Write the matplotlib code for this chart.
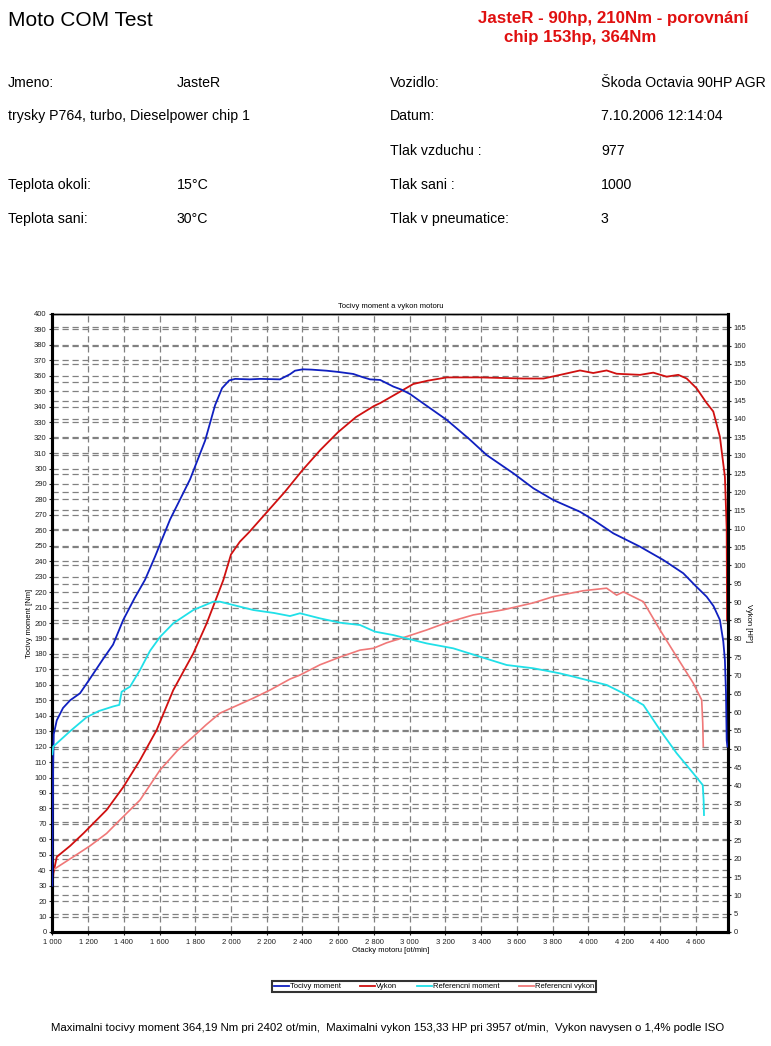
import matplotlib
matplotlib.use("Agg")
import matplotlib.pyplot as plt
from matplotlib.ticker import FuncFormatter, MultipleLocator
from matplotlib.lines import Line2D

plt.rcParams['font.family'] = ['Liberation Sans', 'DejaVu Sans']

# ---------------- data ----------------
rpm_torque = [1000, 1002, 1005, 1008, 1025, 1060, 1100, 1155, 1211, 1286, 1340, 1397, 1460, 1519,
              1575, 1659, 1771, 1855, 1911, 1950, 1990, 2023, 2106, 2163, 2274, 2330, 2358, 2402,
              2450, 2535, 2600, 2684, 2740, 2778, 2835, 2909, 2955, 3002, 3058, 3208, 3329, 3431,
              3580, 3692, 3804, 3953, 4028, 4140, 4289, 4419, 4531, 4600, 4662, 4700, 4736, 4755,
              4764, 4770, 4774, 4778]
torque_nm = [30, 70, 110, 128, 137, 145, 150, 154.5, 164, 177, 186, 202, 216, 228,
             243, 267, 293, 318, 341, 352, 357, 358, 357.7, 358, 357.7, 361, 363.3, 364.2,
             364, 363.3, 362.5, 361.2, 359, 357.7, 357.3, 353, 351, 348.2, 343.6, 331.4, 319.5, 308.7,
             296.9, 287.2, 279.6, 272, 266.7, 258, 249.4, 240.8, 232.2, 224, 217, 211, 202, 188,
             176, 155, 124, 120]

rpm_power = [1000, 1002, 1006, 1025, 1100, 1174, 1304, 1398, 1491, 1584, 1677, 1789, 1864, 1957,
             2000, 2050, 2100, 2200, 2300, 2400, 2500, 2600, 2700, 2800, 2835, 2946, 3020, 3100,
             3207, 3393, 3636, 3749, 3843, 3953, 4027, 4102, 4158, 4289, 4363, 4438, 4503, 4550,
             4606, 4662, 4699, 4736, 4764, 4774, 4776]
power_hp = [5, 12, 16, 20.5, 23.5, 26.9, 33.3, 39.6, 46.9, 55.1, 66, 76, 84.2, 96,
            103, 106.5, 109, 114.5, 120, 126, 131.5, 136.4, 140.5, 143.5, 144.3, 147.4, 149.5, 150.4,
            151.3, 151.3, 151, 151, 152, 153.2, 152.5, 153.2, 152.3, 152, 152.6, 151.5, 152, 151,
            148.3, 144.3, 142, 135.1, 124.2, 110, 85]

rpm_ref_torque = [1000, 1005, 1043, 1100, 1192, 1260, 1341, 1375, 1388, 1435, 1491, 1547, 1603, 1677,
                  1789, 1901, 1938, 1976, 2125, 2240, 2330, 2386, 2498, 2610, 2722, 2806, 2908, 2983,
                  3095, 3244, 3393, 3543, 3692, 3841, 3916, 4011, 4102, 4196, 4308, 4401, 4494,
                  4587, 4640, 4645, 4647]
ref_torque_nm = [115, 120, 124, 130, 139, 143, 146, 147, 155.5, 158.8, 169.6, 182, 191, 199.8,
                 208.4, 213.8, 213.8, 212.7, 208.4, 206.5, 204.5, 206.3, 203, 200.2, 198.7, 194.4, 192.2, 190,
                 186.8, 183.6, 178.2, 172.8, 170.7, 167.4, 165.3, 162.5, 159.9, 154.5, 146.9, 130.7, 115.7,
                 102.7, 95.1, 85, 75.7]

rpm_ref_power = [1000, 1006, 1117, 1211, 1304, 1379, 1491, 1603, 1700, 1789, 1860, 1938, 2125, 2218,
                 2274, 2330, 2386, 2498, 2610, 2722, 2797, 2871, 2983, 3095, 3207, 3356, 3524, 3692,
                 3804, 3971, 4102, 4158, 4196, 4308, 4401, 4494, 4587, 4634, 4640, 4643]
ref_power_hp = [16, 17, 20.5, 23.5, 26.9, 30.6, 36, 44.2, 49.5, 53.3, 56.5, 59.7, 63.8, 66,
                67.5, 69, 70.1, 72.9, 75, 76.9, 77.4, 78.9, 80.6, 82.4, 84.4, 86.5, 87.9, 89.8,
                91.5, 93.1, 93.8, 91.9, 92.8, 90.1, 82.4, 75.1, 67.9, 63.3, 57, 50.6]

x_ticks = [1000, 1200, 1400, 1600, 1800, 2000, 2200, 2400, 2600, 2800, 3000, 3200, 3400, 3600,
           3800, 4000, 4200, 4400, 4600]

series_labels = ["Tocivy moment", "Vykon", "Referencni moment", "Referencni vykon"]
series_colors = ["#1020c0", "#d01010", "#20e0e8", "#f07878"]

info_left = [("Jmeno:", "JasteR"), ("trysky P764, turbo, Dieselpower chip 1", ""), ("", ""),
             ("Teplota okoli:", "15°C"), ("Teplota sani:", "30°C")]
info_right = [("Vozidlo:", "Škoda Octavia 90HP AGR"), ("Datum:", "7.10.2006 12:14:04"),
              ("Tlak vzduchu :", "977"), ("Tlak sani :", "1000"), ("Tlak v pneumatice:", "3")]

# ---------------- figure ----------------
W, H = 771, 1046
fig = plt.figure(figsize=(W / 100, H / 100), dpi=100)

def fx(px):
    return px / W

def fy(py):
    return 1 - py / H

# header
fig.text(fx(8), fy(20), "Moto COM Test", fontsize=15, va='center', ha='left')
fig.text(fx(478), fy(18), "JasteR - 90hp, 210Nm - porovnání", fontsize=12.2, fontweight='bold',
         color='#e01010', va='center', ha='left')
fig.text(fx(504), fy(37.5), "chip 153hp, 364Nm", fontsize=12.2, fontweight='bold',
         color='#e01010', va='center', ha='left')

row_y = [83, 116, 151, 185, 219]
for (lab, val), y in zip(info_left, row_y):
    if lab:
        fig.text(fx(8), fy(y), lab, fontsize=10.2, va='center', ha='left')
    if val:
        fig.text(fx(177), fy(y), val, fontsize=10.2, va='center', ha='left')
for (lab, val), y in zip(info_right, row_y):
    fig.text(fx(390), fy(y), lab, fontsize=10.2, va='center', ha='left')
    fig.text(fx(601), fy(y), val, fontsize=10.2, va='center', ha='left')

# axes
left, right, top, bottom = 52.3, 728.3, 314, 932
ax = fig.add_axes([fx(left), fy(bottom), (right - left) / W, (bottom - top) / H])
ax.set_xlim(1000, 4783)
ax.set_ylim(0, 400)

grid_kw = dict(color='#808080', linestyle=(0, (5, 3)), linewidth=0.9)
ax.yaxis.set_major_locator(MultipleLocator(10))
ax.set_xticks(x_ticks)
ax.grid(True, axis='both', **grid_kw)
ax.set_axisbelow(True)

ax2 = ax.twinx()
ax2.set_ylim(0, 168.6)
ax2.yaxis.set_major_locator(MultipleLocator(5))
ax2.grid(True, axis='y', **grid_kw)
ax2.set_axisbelow(True)

ax3 = ax.twinx()
ax3.set_ylim(0, 400)
ax3.axis('off')

ax2.plot(rpm_power, power_hp, color=series_colors[1], lw=1.3)
ax2.plot(rpm_ref_power, ref_power_hp, color=series_colors[3], lw=1.2)
ax3.plot(rpm_torque, torque_nm, color=series_colors[0], lw=1.3)
ax3.plot(rpm_ref_torque, ref_torque_nm, color=series_colors[2], lw=1.3)

fmt = FuncFormatter(lambda v, p: f"{int(v):,}".replace(",", " "))
ax.xaxis.set_major_formatter(fmt)
for a in (ax, ax2):
    a.tick_params(labelsize=5.5, length=2.5, width=0.8, pad=1.5, colors='#222222')
ax.tick_params(axis='x', pad=2.5)

for a in (ax, ax2):
    for s in ('left', 'bottom', 'right'):
        a.spines[s].set_linewidth(2.2)
        a.spines[s].set_color('black')
    a.spines['top'].set_linewidth(1.0)

ax.set_title("Tocivy moment a vykon motoru", fontsize=5.5, pad=4)
ax.set_xlabel("Otacky motoru [ot/min]", fontsize=5.5, labelpad=0.5)
ax.set_ylabel("Tocivy moment [Nm]", fontsize=5.5, labelpad=0.5)
ax2.set_ylabel("Vykon [HP]", fontsize=5.5, rotation=-90, labelpad=4)

handles = [Line2D([], [], color=c, lw=1.3) for c in series_colors]
leg = fig.legend(handles, series_labels, loc='center', bbox_to_anchor=(fx(434), fy(986.5)), ncol=4,
                 fontsize=5.5, frameon=True, fancybox=False, edgecolor='black', handlelength=2.0,
                 handletextpad=0.15, columnspacing=2.5, borderpad=0.25, borderaxespad=0)
leg.get_frame().set_linewidth(1.5)

fig.text(fx(388), fy(1028), "Maximalni tocivy moment 364,19 Nm pri 2402 ot/min,  Maximalni vykon 153,33 HP pri 3957 ot/min,  Vykon navysen o 1,4% podle ISO",
         fontsize=8.2, ha='center', va='center')

fig.savefig("out.png", dpi=100)
